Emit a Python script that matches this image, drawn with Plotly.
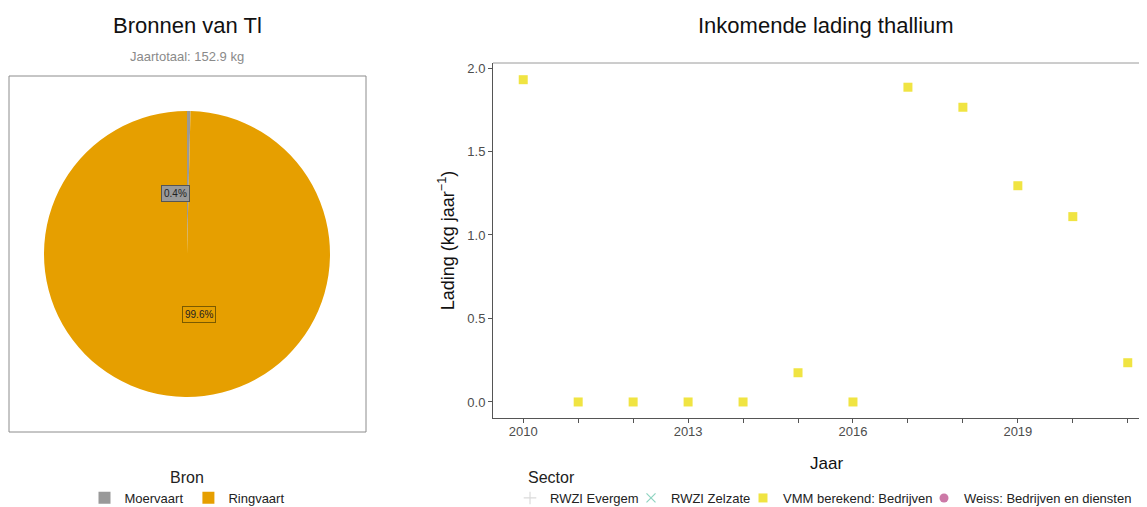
import plotly.graph_objects as go

# Pie data: sources of Tl (kg per year)
bronnen = ['Moervaart', 'Ringvaart']
bron_kg = [0.6, 152.3]
bron_kleur = ['#999999', '#E69F00']

# Scatter data: incoming thallium load per year (VMM berekend: Bedrijven)
jaren = [2010, 2011, 2012, 2013, 2014, 2015, 2016, 2017, 2018, 2019, 2020, 2021]
lading = [1.93, 0.0, 0.0, 0.0, 0.0, 0.175, 0.0, 1.885, 1.765, 1.295, 1.11, 0.235]

sectoren = ['RWZI Evergem', 'RWZI Zelzate', 'VMM berekend: Bedrijven', 'Weiss: Bedrijven en diensten']
sector_symbool = ['cross-thin', 'x-thin', 'square', 'circle']
sector_kleur = ['rgba(153,153,153,0.35)', 'rgba(0,158,115,0.45)', '#F0E442', '#CC79A7']

# the page body has an 8px margin, so the figure starts at (8, 8) on screen
OFF = 8
W, H = 1147 - OFF, 507 - OFF
FONT = 'Liberation Sans, Arial, sans-serif'


def px(x):
    return (x - OFF) / W


def py(y):
    return 1 - (y - OFF) / H


fig = go.Figure()

totaal = sum(bron_kg)
fig.add_trace(go.Pie(
    labels=bronnen, values=bron_kg, sort=False, direction='counterclockwise',
    marker=dict(colors=bron_kleur, line=dict(width=0)),
    textinfo='none', hoverinfo='label+percent',
    domain=dict(x=[px(44), px(330)], y=[py(397), py(111)]),
    legend='legend2',
))

# each sector gets its own legend so the entries can sit where the reference has them
legend_namen = ['legend', 'legend3', 'legend4', 'legend5']
legend_x = [510, 631, 743, 924]
for naam, sym, kl, lg in zip(sectoren, sector_symbool, sector_kleur, legend_namen):
    if naam == 'VMM berekend: Bedrijven':
        xs, ys = jaren, lading
    else:
        xs, ys = [None], [None]
    mk = dict(symbol=sym, size=9, color=kl)
    if sym.endswith('thin'):
        mk['line'] = dict(color=kl, width=1.2)
    fig.add_trace(go.Scatter(x=xs, y=ys, mode='markers', name=naam, marker=mk,
                             xaxis='x', yaxis='y', legend=lg, showlegend=True))


def tekst(x, y, s, size, color='#111111', xanchor='center'):
    fig.add_annotation(x=px(x), y=py(y), xref='paper', yref='paper', text=s,
                       xanchor=xanchor, yanchor='middle', showarrow=False,
                       font=dict(size=size, color=color, family=FONT))


# pie labels
pct = [v / totaal * 100 for v in bron_kg]
label_pos = [(175, 193), (199, 314)]
label_rand = ['#555555', '#7a5a00']
for p, (lx, ly), kl, rand in zip(pct, label_pos, bron_kleur, label_rand):
    fig.add_annotation(x=px(lx), y=py(ly), xref='paper', yref='paper',
                       xanchor='center', yanchor='middle',
                       text=f'{p:.1f}%', showarrow=False,
                       font=dict(size=10, color='#222222', family=FONT),
                       bgcolor=kl, bordercolor=rand, borderwidth=1, borderpad=2)

# pie box
fig.add_shape(type='rect', xref='paper', yref='paper',
              x0=px(9), x1=px(366), y0=py(432), y1=py(76),
              line=dict(color='#8c8c8c', width=1))

tekst(187, 25, 'Bronnen van Tl', 22)
tekst(187, 57, f'Jaartotaal: {totaal:.1f} kg', 13, '#8a8a8a')
tekst(826, 25, 'Inkomende lading thallium', 22)
tekst(826, 463, 'Jaar', 17)
tekst(526, 477, 'Sector', 16, '#222222', 'left')

leg_stijl = dict(orientation='h', yanchor='middle', xanchor='left',
                 xref='container', yref='container',
                 font=dict(size=13, color='#222222'), itemwidth=30,
                 bgcolor='rgba(0,0,0,0)', borderwidth=0)

layout_legends = {}
for lg, lx in zip(legend_namen, legend_x):
    layout_legends[lg] = dict(leg_stijl, x=px(lx), y=py(498))

fig.update_layout(
    width=W, height=H, margin=dict(l=0, r=0, t=0, b=0, autoexpand=False),
    paper_bgcolor='white', plot_bgcolor='white', showlegend=True,
    font=dict(family=FONT, color='#222222'),
    xaxis=dict(domain=[px(493), 1], range=[2009.45, 2021.35], automargin=False,
               tickvals=[2010, 2013, 2016, 2019], ticks='outside', ticklen=4,
               ticklabelstandoff=-3,
               tickcolor='#555555', tickfont=dict(size=13, color='#4D4D4D'),
               minor=dict(dtick=1, tick0=2010, ticks='outside', ticklen=4, tickcolor='#555555'),
               showline=True, linecolor='#555555', linewidth=1, mirror=False,
               showgrid=False, zeroline=False),
    yaxis=dict(domain=[py(418), py(63)], range=[-0.096, 2.03], automargin=False,
               tickvals=[0, 0.5, 1.0, 1.5, 2.0], tickformat='.1f', ticks='outside', ticklen=4,
               tickcolor='#555555', tickfont=dict(size=13, color='#4D4D4D'),
               showline=True, linecolor='#555555', linewidth=1,
               showgrid=False, zeroline=False,
               title=dict(text='Lading (kg jaar<sup>−1</sup>)', font=dict(size=18, color='#111111'),
                          standoff=8)),
    legend2=dict(orientation='h', x=px(187), y=py(462), xanchor='center', yanchor='top',
                 xref='container', yref='container',
                 title=dict(text='Bron', side='top center', font=dict(size=16, color='#222222')),
                 font=dict(size=13, color='#222222'), itemwidth=30, bgcolor='rgba(0,0,0,0)'),
    **layout_legends,
)

# top border of the scatter panel
fig.add_shape(type='line', xref='paper', yref='paper', x0=px(493), x1=1, y0=py(63), y1=py(63),
              line=dict(color='#9a9a9a', width=1))

fig.write_html('out.html')
